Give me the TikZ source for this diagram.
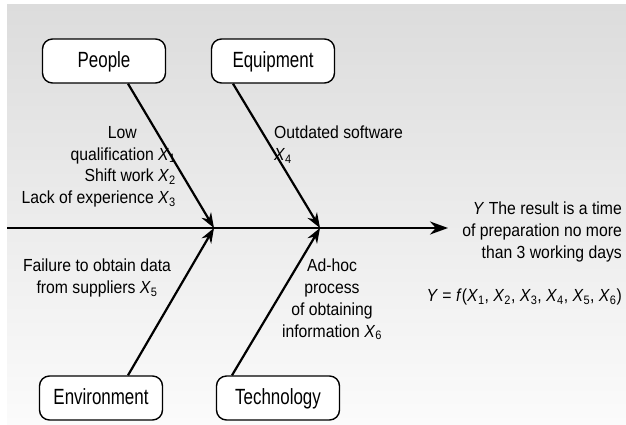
\documentclass[tikz,border=0pt]{standalone}
\usepackage{fontspec}
\setmainfont[FakeStretch=0.9]{Liberation Sans}
\newfontfamily\boxfont[FakeStretch=0.77]{Liberation Sans}
\usetikzlibrary{arrows.meta}
\definecolor{bgtop}{RGB}{220,220,220}
\definecolor{bgbottom}{RGB}{251,251,251}
\newcommand{\xv}[1]{\textit{X}\textsubscript{#1}}
\tikzset{
    cause-box/.style = {draw=black, fill=white, line width=1.4pt, rectangle, rounded corners=10pt, minimum width=123pt, minimum height=44pt, inner sep=0pt, text depth=2pt, font=\boxfont\fontsize{22}{26}\selectfont},
    cause-arrow/.style = {line width=2.2pt, -{Stealth[length=15pt,width=11pt]}},
    spine/.style = {line width=2.4pt, -{Stealth[length=18pt,width=13pt]}},
    cause-text/.style = {inner sep=0pt, font=\fontsize{17.5}{21.8}\selectfont},
}

\begin{document}
\begin{tikzpicture}[x=1pt, y=-1pt]
\useasboundingbox (0,0) rectangle (626,424);
\shade[top color=bgtop, bottom color=bgbottom] (7,4) rectangle (626,424);

% categories
\node[cause-box] (people) at (104,61) {People};
\node[cause-box] (equipment) at (273,61) {Equipment};
\node[cause-box] (environment) at (101,398) {Environment};
\node[cause-box] (technology) at (278,398) {Technology};

% spine
\coordinate (tail) at (7,228);
\coordinate (j1) at (214,228);
\coordinate (j2) at (320,228);
\coordinate (head) at (448,228);
\draw[spine] (tail) -- (head);

\draw[cause-arrow] ([xshift=24pt]people.south) -- (j1);
\draw[cause-arrow] ([xshift=-40pt]equipment.south) -- (j2);
\draw[cause-arrow] ([xshift=27pt]environment.north) -- (j1);
\draw[cause-arrow] ([xshift=-46pt]technology.north) -- (j2);

% causes
\node[cause-text, align=right, anchor=north east] (people-text) at (176,126) {Low\hspace*{39pt}\\qualification \xv{1}\\Shift work \xv{2}\\Lack of experience \xv{3}};
\node[cause-text, align=left, anchor=north west] (equipment-text) at (274,126) {Outdated software\\\xv{4}};
\node[cause-text, align=center, anchor=north] (environment-text) at (97,259) {Failure to obtain data\\from suppliers \xv{5}};
\node[cause-text, align=center, anchor=north] (technology-text) at (332,259) {Ad-hoc\\process\\of obtaining\\information \xv{6}};

% effect
\node[cause-text, align=right, anchor=north east] (result-text) at (622,202) {\textit{Y} The result is a time\\of preparation no more\\than 3 working days};
\node[cause-text, anchor=east] (formula) at (622,297) {\textit{Y} = \textit{f}(\xv{1}, \xv{2}, \xv{3}, \xv{4}, \xv{5}, \xv{6})};
\end{tikzpicture}
\end{document}
